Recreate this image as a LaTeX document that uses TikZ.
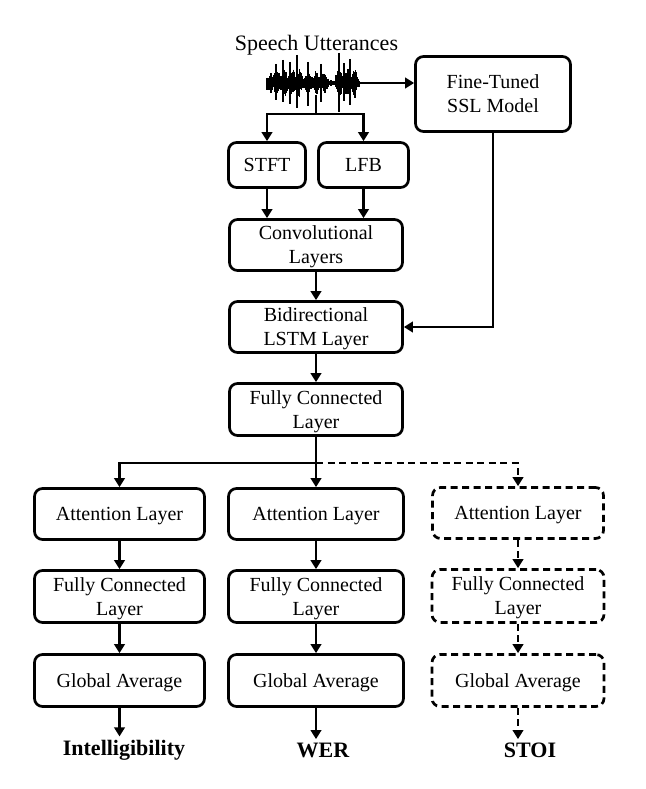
\documentclass[tikz,border=0pt]{standalone}
\usepackage{fontspec}
\setmainfont{Liberation Serif}
\usetikzlibrary{arrows.meta}
\begin{document}
\begin{tikzpicture}[x=1pt,y=-1pt,
  box/.style={draw, line width=2.7pt, rounded corners=8pt, align=center,
    font=\fontsize{20}{24}\selectfont, inner sep=0pt, text depth=0pt},
  dbox/.style={box, dash pattern=on 7pt off 4.5pt},
  ln/.style={line width=2.7pt},
  arr/.style={line width=2.7pt, -{Triangle[length=9pt,width=10.5pt]}},
  dsh/.style={dash pattern=on 7pt off 4.5pt},
  lab/.style={font=\fontsize{22}{26}\selectfont\bfseries},
  wv/.style={line width=1.1pt}]
\useasboundingbox (0,0) rectangle (645,789);

% title
\node[font=\fontsize{22}{26}\selectfont] (title) at (316.5,45) {Speech Utterances};

% waveform
\pgfmathsetseed{11}
\foreach \i in {0,...,185} {
  \pgfmathsetmacro\x{267+\i*0.5}
  \pgfmathsetmacro\e{((\x<271)*9 + (\x>=271)*(\x<300)*15 + (\x>=300)*(\x<329)*12 + (\x>=329)*(\x<336)*3 + (\x>=336)*(\x<357)*15 + (\x>=357)*8)*(0.75+0.25*sin(\i*23))}
  \pgfmathsetmacro\a{\e*(0.4+0.6*rnd)}
  \pgfmathsetmacro\b{\e*(0.4+0.6*rnd)}
  \draw[wv] (\x,83-\a) -- (\x,83+\b);
}
\draw[line width=1.4pt] (297,55) -- (297,108);
\draw[line width=1.4pt] (339,53) -- (339,112);
\draw[wv] (283,60) -- (283,102);
\draw[wv] (276,64) -- (276,100);
\draw[wv] (308,62) -- (308,106);
\draw[wv] (321,64) -- (321,102);
\draw[wv] (350,59) -- (350,105);
\draw[wv] (290,62) -- (290,104);
\draw[wv] (344,63) -- (344,101);
\coordinate (waveR) at (359,83);
\coordinate (stem) at (316,95);
\coordinate (split) at (316,114);

% boxes
\node[box, minimum width=155pt, minimum height=75pt] (ssl) at (493,94) {Fine-Tuned\\SSL Model};
\node[box, minimum width=77pt, minimum height=45pt] (stft) at (267,165) {STFT};
\node[box, minimum width=90pt, minimum height=45pt] (lfb) at (363.5,165) {LFB};
\node[box, minimum width=173pt, minimum height=51pt] (conv) at (316,245) {Convolutional\\Layers};
\node[box, minimum width=173pt, minimum height=51pt] (bilstm) at (316,327) {Bidirectional\\LSTM Layer};
\node[box, minimum width=173pt, minimum height=52pt] (fc) at (316,409.5) {Fully Connected\\Layer};

\node[box, minimum width=170pt, minimum height=51pt] (att1) at (119.5,514) {Attention Layer};
\node[box, minimum width=170pt, minimum height=52pt] (fc1) at (119.5,596.5) {Fully Connected\\Layer};
\node[box, minimum width=170pt, minimum height=52pt] (ga1) at (119.5,680.5) {Global Average};

\node[box, minimum width=175pt, minimum height=51pt] (att2) at (316,514) {Attention Layer};
\node[box, minimum width=175pt, minimum height=52pt] (fc2) at (316,596.5) {Fully Connected\\Layer};
\node[box, minimum width=175pt, minimum height=52pt] (ga2) at (316,680.5) {Global Average};

\node[dbox, minimum width=171pt, minimum height=51pt] (att3) at (518,513) {Attention Layer};
\node[dbox, minimum width=172pt, minimum height=53pt] (fc3) at (518,596) {Fully Connected\\Layer};
\node[dbox, minimum width=172pt, minimum height=52pt] (ga3) at (518,680.5) {Global Average};

\node[lab] (o1) at (124,750) {Intelligibility};
\node[lab] (o2) at (323,750) {WER};
\node[lab] (o3) at (530,750) {STOI};

% connectors
\draw[arr] (waveR) -- (waveR -| ssl.west);
\draw[ln] (stem) -- (split);
\draw[arr] (split) -| (stft);
\draw[arr] (split) -| (lfb);
\draw[arr] (stft.south) -- (stft.south |- conv.north);
\draw[arr] (lfb.south) -- (lfb.south |- conv.north);
\draw[arr] (conv) -- (bilstm);
\draw[arr] (ssl.south) |- (bilstm.east);
\draw[arr] (bilstm) -- (fc);
\coordinate (fork) at (316,463);
\draw[ln] (fc.south) -- (fork);
\draw[arr] (fork) -| (att1);
\draw[arr] (fork) -- (att2);
\draw[arr, dsh] (fork) -| (att3);

\draw[arr] (att1) -- (fc1);
\draw[arr] (fc1) -- (ga1);
\draw[arr] (ga1) -- (ga1 |- o1.north);
\draw[arr] (att2) -- (fc2);
\draw[arr] (fc2) -- (ga2);
\draw[arr] (ga2) -- (ga2 |- o2.north);
\draw[arr, dsh] (att3) -- (fc3);
\draw[arr, dsh] (fc3) -- (ga3);
\draw[arr, dsh] (ga3) -- (ga3 |- o3.north);
\end{tikzpicture}
\end{document}
